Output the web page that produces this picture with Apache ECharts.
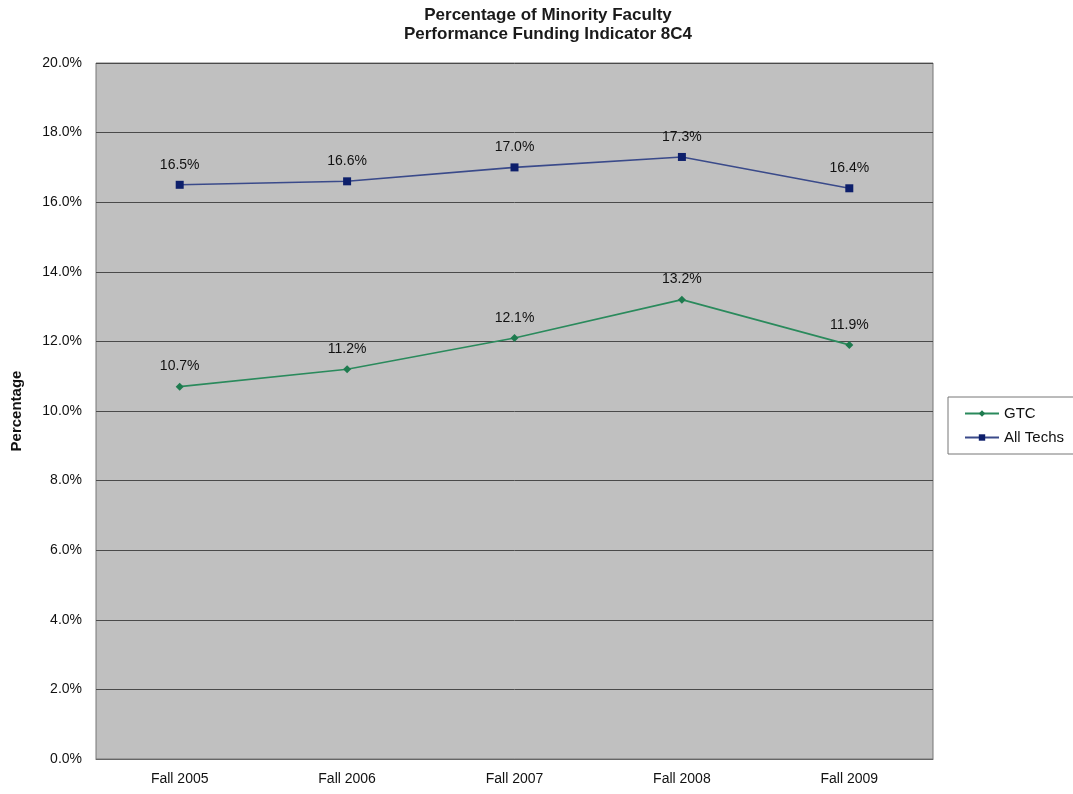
<!DOCTYPE html>
<html>
<head>
<meta charset="utf-8">
<script src="https://cdn.jsdelivr.net/npm/echarts@6/dist/echarts.min.js"></script>
<style>
  html, body { margin: 0; padding: 0; background: #fff; }
  #chart { width: 1073px; height: 794px; }
</style>
</head>
<body>
<div id="chart"></div>
<script>
var categories = ['Fall 2005', 'Fall 2006', 'Fall 2007', 'Fall 2008', 'Fall 2009'];
var gtc = [10.7, 11.2, 12.1, 13.2, 11.9];
var allTechs = [16.5, 16.6, 17.0, 17.3, 16.4];

var chart = echarts.init(document.getElementById('chart'));
var FONT = '"Liberation Sans", Arial, sans-serif';
var labelStyle = {
  show: true,
  position: 'top',
  distance: 9,
  color: '#111',
  fontSize: 14,
  fontFamily: FONT,
  formatter: function (p) { return p.value.toFixed(1) + '%'; }
};
var option = {
  animation: false,
  backgroundColor: '#fff',
  title: {
    text: 'Percentage of Minority Faculty\nPerformance Funding Indicator 8C4',
    left: 543,
    textAlign: 'center',
    top: 1,
    textStyle: {
      fontSize: 17,
      fontWeight: 'bold',
      color: '#1a1a1a',
      lineHeight: 19,
      fontFamily: FONT
    }
  },
  legend: {
    orient: 'vertical',
    left: 948,
    top: 397,
    itemWidth: 34,
    itemHeight: 8,
    itemGap: 9,
    padding: [9, 10, 9, 16],
    borderColor: '#777',
    borderWidth: 1,
    borderRadius: 0,
    textStyle: { fontSize: 15, color: '#111', fontFamily: FONT },
    data: ['GTC', 'All Techs']
  },
  grid: {
    left: 96,
    right: 140,
    top: 63,
    bottom: 35,
    show: true,
    backgroundColor: '#c0c0c0',
    borderColor: '#777',
    borderWidth: 1
  },
  xAxis: {
    type: 'category',
    data: categories,
    boundaryGap: true,
    axisLine: { lineStyle: { color: '#666' } },
    axisTick: { show: false },
    axisLabel: { color: '#111', fontSize: 14, margin: 13, fontFamily: FONT }
  },
  yAxis: {
    type: 'value',
    min: 0,
    max: 20,
    interval: 2,
    name: 'Percentage',
    nameLocation: 'middle',
    nameGap: 72,
    nameTextStyle: { fontSize: 15, fontWeight: 'bold', color: '#111', fontFamily: FONT },
    axisLine: { show: false },
    axisTick: { show: false },
    axisLabel: {
      color: '#111', fontSize: 14, margin: 14,
      fontFamily: FONT,
      formatter: function (v) { return v.toFixed(1) + '%'; }
    },
    splitLine: { lineStyle: { color: '#4a4a4a', width: 1 } }
  },
  series: [
    {
      name: 'GTC',
      type: 'line',
      data: gtc,
      symbol: 'diamond',
      symbolSize: 8,
      color: '#1e7b4f',
      lineStyle: { color: '#2a8a5c', width: 1.6 },
      itemStyle: { color: '#1e7b4f' },
      label: labelStyle
    },
    {
      name: 'All Techs',
      type: 'line',
      data: allTechs,
      symbol: 'rect',
      symbolSize: 8,
      color: '#0d1f6b',
      lineStyle: { color: '#3a4a8a', width: 1.6 },
      itemStyle: { color: '#0d1f6b' },
      label: labelStyle
    }
  ]
};
chart.setOption(option);
</script>
</body>
</html>
